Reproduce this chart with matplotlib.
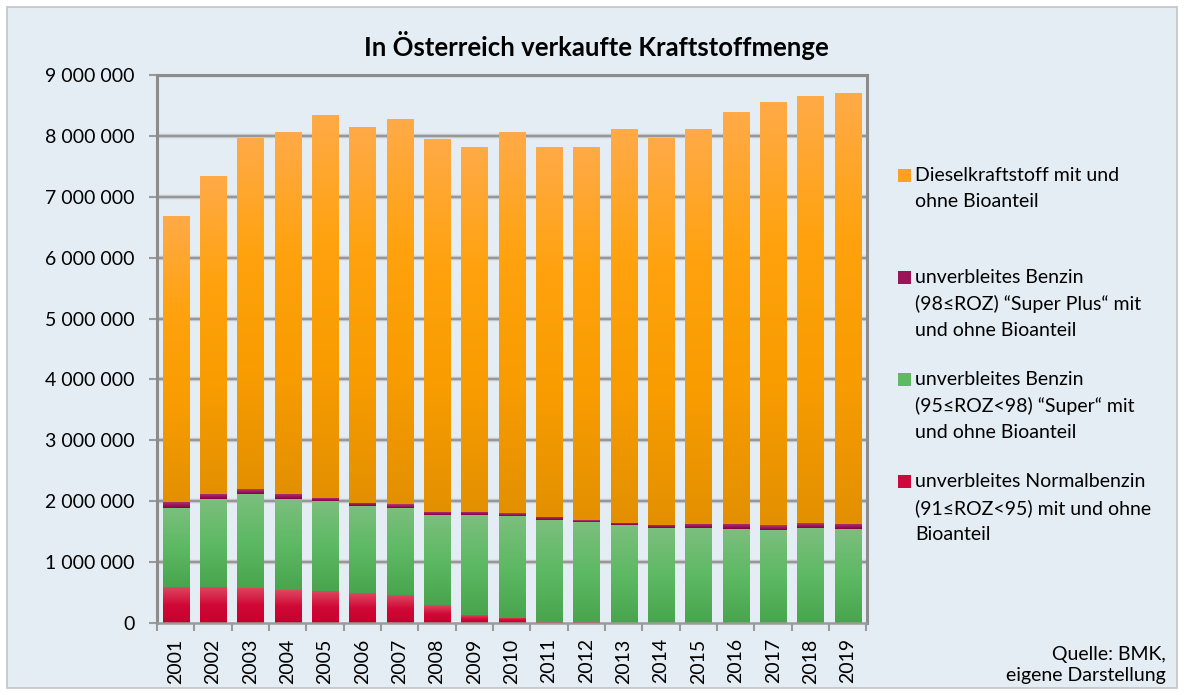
import numpy as np
import matplotlib
matplotlib.use("Agg")
import matplotlib.pyplot as plt
from matplotlib.colors import LinearSegmentedColormap
from matplotlib.patches import Rectangle
from matplotlib.ticker import FixedLocator

plt.rcParams['font.family'] = ['Lato', 'DejaVu Sans']

years = [str(y) for y in range(2001, 2020)]
normal = [590000, 590000, 575000, 540000, 520000, 490000, 455000, 290000, 125000, 90000,
          20000, 20000, 0, 0, 0, 0, 0, 0, 0]
superb = [1300000, 1440000, 1545000, 1490000, 1480000, 1430000, 1435000, 1480000, 1645000, 1670000,
          1670000, 1640000, 1610000, 1560000, 1560000, 1540000, 1530000, 1560000, 1540000]
superplus = [100000, 90000, 80000, 90000, 50000, 50000, 60000, 50000, 50000, 40000,
             50000, 30000, 40000, 50000, 70000, 90000, 80000, 80000, 90000]
diesel = [4690000, 5210000, 5760000, 5940000, 6290000, 6170000, 6310000, 6110000, 5980000, 6250000,
          6070000, 6110000, 6460000, 6350000, 6480000, 6760000, 6940000, 7010000, 7070000]

labels = ["Dieselkraftstoff mit und\nohne Bioanteil",
          "unverbleites Benzin\n(98≤ROZ) “Super Plus“ mit\nund ohne Bioanteil",
          "unverbleites Benzin\n(95≤ROZ<98) “Super“ mit\nund ohne Bioanteil",
          "unverbleites Normalbenzin\n(91≤ROZ<95) mit und ohne\nBioanteil"]
yticks = list(range(0, 9000001, 1000000))
ytick_labels = [f"{v:,}".replace(",", " ") for v in yticks]
title = "In Österreich verkaufte Kraftstoffmenge"
source = "Quelle: BMK,\neigene Darstellung"

BG = '#E4EDF4'
grad = {
    'diesel': ['#E39000', '#F89C00', '#FFA20E', '#FFAA48'],
    'superplus': ['#880046', '#9E1A5C', '#B23C76'],
    'super': ['#48A54D', '#5DB963', '#7CBF7E'],
    'normal': ['#C6002C', '#D00836', '#DE4760'],
}
solid = {'diesel': '#FFA020', 'superplus': '#9C1458', 'super': '#5DB963', 'normal': '#D0073A'}

W, H = 1184, 695
fig = plt.figure(figsize=(W / 100, H / 100), dpi=100)
fig.patch.set_facecolor('white')
fig.patches.append(Rectangle((7 / W, 1 - 688 / H), (1177 - 7) / W, (688 - 7) / H,
                             transform=fig.transFigure, facecolor=BG, edgecolor='#C4C4C4',
                             linewidth=1.2, zorder=-10))

ax = fig.add_axes([157 / W, 1 - 623 / H, (866.5 - 157) / W, (623 - 75) / H])
ax.set_zorder(1)
ax.set_facecolor(BG)

x = np.arange(len(years))
bw = 0.70
bottom = np.zeros(len(years))
series = [('normal', normal), ('super', superb), ('superplus', superplus), ('diesel', diesel)]
grad_img = np.linspace(0, 1, 256).reshape(-1, 1)
for key, vals in series:
    vals = np.array(vals, dtype=float)
    bars = ax.bar(x, vals, bw, bottom=bottom, color=solid[key], linewidth=0, zorder=3)
    cmap = LinearSegmentedColormap.from_list(key, grad[key])
    for p in bars:
        h = p.get_height()
        if h <= 0:
            continue
        x0, y0, w = p.get_x(), p.get_y(), p.get_width()
        ax.imshow(grad_img, cmap=cmap, origin='lower', aspect='auto',
                  extent=[x0, x0 + w, y0, y0 + h], zorder=4, interpolation='bilinear')
    bottom += vals

ax.set_xlim(-0.5, len(years) - 0.5)
ax.set_ylim(0, 9000000)

# grid
ax.set_yticks(yticks)
ax.set_yticklabels(ytick_labels)
for v in yticks[1:]:
    ax.axhline(v, color='#C9CDD2', linewidth=3.2, zorder=1)
    ax.axhline(v, color='#979797', linewidth=1.6, zorder=2)

ax.set_xticks(x)
ax.set_xticklabels(years, rotation=90)
ax.xaxis.set_minor_locator(FixedLocator(np.arange(-0.5, len(years), 1.0)))
ax.tick_params(axis='x', which='major', length=0, pad=11, labelsize=14, colors='#000000')
ax.tick_params(axis='x', which='minor', length=6, width=1.5, color='#9A9A9A')
ax.tick_params(axis='y', which='major', length=6, width=1.5, color='#9A9A9A', pad=10,
               labelsize=14)

for s in ['left', 'top', 'right']:
    ax.spines[s].set_color('#8C8C8C')
    ax.spines[s].set_linewidth(2.2)
ax.spines['bottom'].set_color('#9A9A9A')
ax.spines['bottom'].set_linewidth(1.8)
for s in ax.spines.values():
    s.set_zorder(5)

fig.text(596 / W, 1 - 46 / H, title, ha='center', va='center', fontsize=18.5,
         fontweight='bold', color='#000000')

# legend (manual)
entry_y = [168, 270, 372, 474]
order = ['diesel', 'superplus', 'super', 'normal']
for key, lab, yy in zip(order, labels, entry_y):
    fig.patches.append(Rectangle((898 / W, 1 - (yy + 14) / H), 13 / W, 13 / H,
                                 transform=fig.transFigure, facecolor=solid[key],
                                 edgecolor='none', zorder=3))
    fig.text(915 / W, 1 - (yy - 1) / H, lab, ha='left', va='top', fontsize=14,
             linespacing=1.62, color='#000000')

fig.text(1166 / W, 1 - 665 / H, source, ha='right', va='center', fontsize=14,
         multialignment='right', linespacing=1.3, color='#000000')

fig.savefig('out.png', dpi=100, facecolor=fig.get_facecolor())
